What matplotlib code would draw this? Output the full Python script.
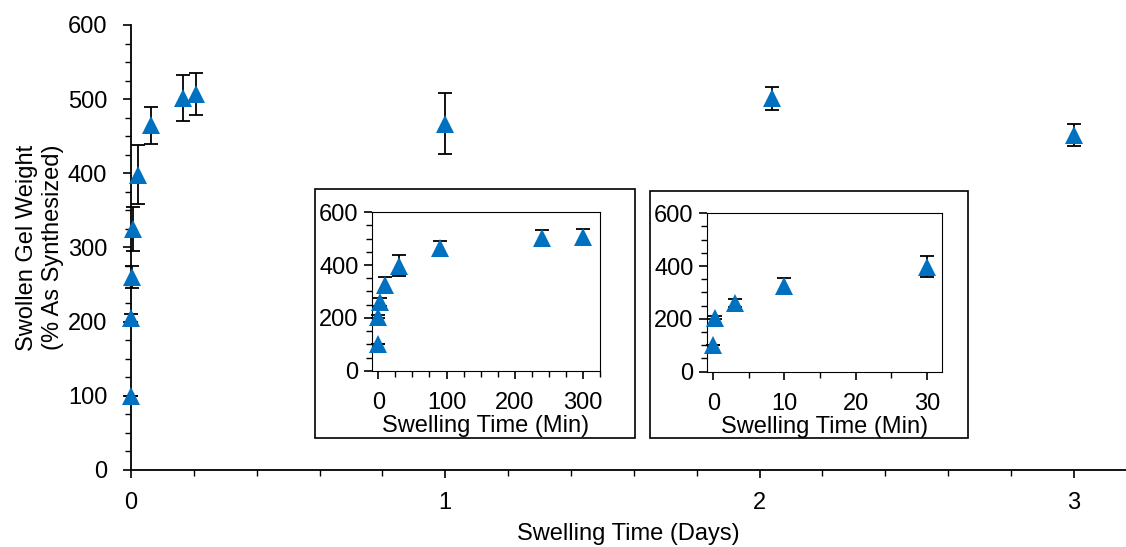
import numpy as np
import matplotlib.pyplot as plt
from matplotlib.patches import Rectangle
from matplotlib.ticker import MultipleLocator

plt.rcParams['font.family'] = ['Liberation Sans', 'DejaVu Sans']
plt.rcParams['font.size'] = 17

# swelling data
time_min = [0, 0.25, 3, 10, 30, 90, 240, 300]
weight_min = [100, 205, 260, 325, 398, 465, 502, 507]
err_min = [0, 5, 15, 30, 40, 25, 31, 28]

time_days_late = [1, 2.04, 3]
weight_days_late = [467, 501, 452]
err_days_late = [41, 15, 15]

time_days = [t / 1440 for t in time_min] + time_days_late
weight_days = weight_min + weight_days_late
err_days = err_min + err_days_late

blue = '#0070C0'

fig = plt.figure(figsize=(11.26, 5.47), dpi=100)


def style_ticks(ax):
    ax.tick_params(which='major', direction='out', length=6, width=1.2, colors='black')
    ax.tick_params(which='minor', direction='out', length=4, width=1.0, colors='black')


def draw_points(ax, x, y, e, ms):
    ax.errorbar(x, y, yerr=e, fmt='none', ecolor='black', elinewidth=1.3,
                capsize=5, capthick=1.3, clip_on=False, zorder=2)
    ax.plot(x, y, '^', color=blue, markersize=ms, markeredgewidth=0,
            clip_on=False, zorder=3)


# main axes
ax = fig.add_axes([0.1163, 0.1408, 0.8837, 0.8135])
draw_points(ax, time_days, weight_days, err_days, 13)
ax.set_xlim(0, 3.166)
ax.set_ylim(0, 600)
ax.xaxis.set_major_locator(MultipleLocator(1))
ax.xaxis.set_minor_locator(MultipleLocator(0.2))
ax.yaxis.set_major_locator(MultipleLocator(100))
ax.yaxis.set_minor_locator(MultipleLocator(25))
for s in ['top', 'right']:
    ax.spines[s].set_visible(False)
for s in ['left', 'bottom']:
    ax.spines[s].set_linewidth(1.3)
style_ticks(ax)
ax.tick_params(axis='x', pad=10)
ax.tick_params(axis='y', pad=11)
ax.set_xlabel('Swelling Time (Days)', labelpad=6)
ax.set_ylabel('Swollen Gel Weight\n(% As Synthesized)', labelpad=3)

# inset frames
for rect in [(0.2797, 0.1993, 0.2846, 0.4543), (0.5773, 0.1993, 0.2826, 0.4510)]:
    fig.patches.append(Rectangle(rect[:2], rect[2], rect[3], transform=fig.transFigure,
                                 fill=False, edgecolor='black', linewidth=1.2))

# inset 1: 0 - 300 min
ax1 = fig.add_axes([0.3301, 0.3223, 0.2028, 0.2896])
draw_points(ax1, time_min, weight_min, err_min, 13)
ax1.set_xlim(-9.7, 325)
ax1.set_ylim(0, 600)
ax1.xaxis.set_major_locator(MultipleLocator(100))
ax1.xaxis.set_minor_locator(MultipleLocator(25))
ax1.yaxis.set_major_locator(MultipleLocator(200))
ax1.yaxis.set_minor_locator(MultipleLocator(50))
style_ticks(ax1)
ax1.tick_params(axis='x', pad=9)
ax1.set_xlabel('Swelling Time (Min)', labelpad=1)

# inset 2: 0 - 30 min
short = [i for i, t in enumerate(time_min) if t <= 30]
ax2 = fig.add_axes([0.6276, 0.3205, 0.2087, 0.2896])
draw_points(ax2, [time_min[i] for i in short], [weight_min[i] for i in short],
            [err_min[i] for i in short], 13)
ax2.set_xlim(-0.94, 32.1)
ax2.set_ylim(0, 600)
ax2.xaxis.set_major_locator(MultipleLocator(10))
ax2.xaxis.set_minor_locator(MultipleLocator(5))
ax2.yaxis.set_major_locator(MultipleLocator(200))
ax2.yaxis.set_minor_locator(MultipleLocator(50))
style_ticks(ax2)
ax2.tick_params(axis='x', pad=9)
ax2.set_xlabel('Swelling Time (Min)', labelpad=1)

fig.savefig('out.png', dpi=100)
